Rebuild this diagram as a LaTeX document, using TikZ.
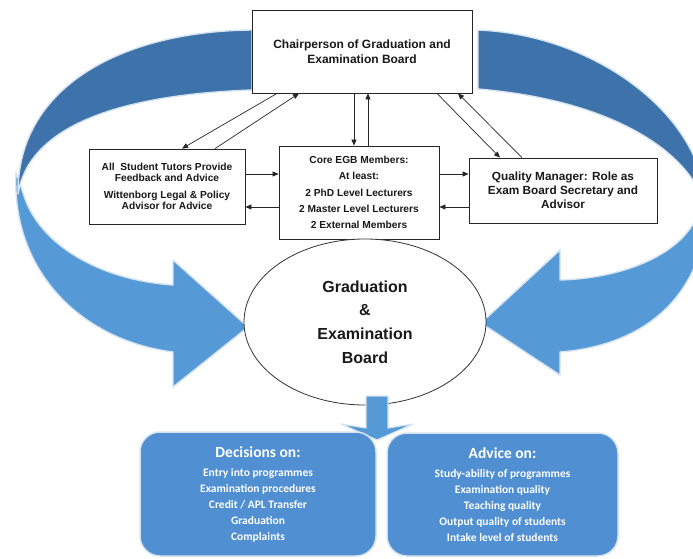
\documentclass[tikz,border=0pt]{standalone}
\usepackage{fontspec}
\setmainfont{Liberation Sans}
\newfontfamily\calfont{Carlito}
\usetikzlibrary{arrows.meta,shapes.geometric}
\definecolor{darkband}{RGB}{62,114,170}
\definecolor{lightband}{RGB}{86,153,215}
\definecolor{edgec}{RGB}{214,228,241}
\definecolor{boxfill}{RGB}{80,144,210}
\definecolor{txt}{RGB}{25,25,25}
\begin{document}
\begin{tikzpicture}[x=1pt,y=-1pt,
  box/.style={draw=black!85, line width=0.8pt, fill=white, align=center, text=txt, inner sep=0pt},
  conn/.style={line width=0.7pt, draw=black!85, -{Triangle[length=6pt,width=5pt]}},
  band/.style={draw=edgec, line width=1.4pt, line join=round},
  infobox/.style={fill=boxfill, draw=edgec, line width=1.5pt, rounded corners=20pt, align=center, text=white, inner sep=0pt, font=\calfont\bfseries\fontsize{11.5}{16}\selectfont}
]
\useasboundingbox (0,0) rectangle (693,558);
\fill[white] (0,0) rectangle (693,558);
\begin{scope}
\clip (0,0) rectangle (693,558);
% left curved arrow
\path[band, fill=lightband] (16,172) .. controls (11,270) and (80,340) .. (173,352) -- (173,387) -- (248,327) -- (173,260) -- (173,285) .. controls (100,280) and (40,245) .. (24,196) -- cycle;
\path[band, fill=darkband] (252,30) .. controls (125,31) and (17,85) .. (18,194) .. controls (28,130) and (110,95) .. (252,90) -- cycle;
% right curved arrow
\path[band, fill=lightband] (708,185) .. controls (712,290) and (650,345) .. (560,352) -- (560,375) -- (481,323) -- (560,250) -- (560,280) .. controls (630,278) and (690,250) .. (700,207) -- cycle;
\path[band, fill=darkband] (478,30) .. controls (600,35) and (705,120) .. (705,205) .. controls (688,150) and (610,100) .. (478,89) -- cycle;
\end{scope}

\node[box, minimum width=220pt, minimum height=83pt, font=\bfseries\fontsize{12}{15}\selectfont] (chair) at (362,51.5) {Chairperson of Graduation and\\Examination Board};
\node[box, minimum width=156pt, minimum height=75pt, font=\bfseries\fontsize{10.2}{11}\selectfont] (tutors) at (167,186.5) {All~ Student Tutors Provide\\Feedback and Advice\\[6pt]Wittenborg Legal \& Policy\\Advisor for Advice};
\node[box, minimum width=160pt, minimum height=93pt, font=\bfseries\fontsize{10.2}{16.3}\selectfont] (core) at (359,192.5) {Core EGB Members:\\At least:\\2 PhD Level Lecturers\\2 Master Level Lecturers\\2 External Members};
\node[box, minimum width=188pt, minimum height=65pt, font=\bfseries\fontsize{11.8}{14}\selectfont] (qm) at (563,190.5) {Quality Manager: Role as\\Exam Board Secretary and\\Advisor};
\node[box, ellipse, draw=black!80, minimum width=242pt, minimum height=166pt, font=\bfseries\fontsize{16}{23.7}\selectfont] (geb) at (365,322) {Graduation\\\&\\Examination\\Board};

% connectors
\draw[conn] ([xshift=-85pt]chair.south) -- ([xshift=15pt]tutors.north);
\draw[conn] ([xshift=48pt]tutors.north) -- ([xshift=-63pt]chair.south);
\draw[conn] ([xshift=-8pt]chair.south) -- ([xshift=-8pt]chair.south |- core.north);
\draw[conn] ([xshift=9pt]core.north) -- ([xshift=9pt]core.north |- chair.south);
\draw[conn] ([xshift=75pt]chair.south) -- ([xshift=-63pt]qm.north);
\draw[conn] ([xshift=-41pt]qm.north) -- ([xshift=96pt]chair.south);
\draw[conn] ([yshift=12.5pt]tutors.east) -- ([yshift=12.5pt]tutors.east -| core.west);
\draw[conn] ([yshift=-20.5pt]tutors.east -| core.west) -- ([yshift=-20.5pt]tutors.east);
\draw[conn] ([yshift=18.5pt]core.east) -- ([yshift=18.5pt]core.east -| qm.west);
\draw[conn] ([yshift=-14.5pt]core.east -| qm.west) -- ([yshift=-14.5pt]core.east);

% down arrow
\path[band, line width=1.2pt, fill=lightband] (366,396) -- (388,396) -- (388,428) -- (413,424) -- (377,440) -- (341,424) -- (366,428) -- cycle;

% bottom boxes
\node[infobox, minimum width=236pt, minimum height=124pt] (dec) at (258,494) {{\fontsize{15.5}{16}\selectfont Decisions on:}\\[3pt]Entry into programmes\\Examination procedures\\Credit / APL Transfer\\Graduation\\Complaints};
\node[infobox, minimum width=231pt, minimum height=123pt] (adv) at (502.5,494.5) {{\fontsize{15.5}{16}\selectfont Advice on:}\\[3pt]Study-ability of programmes\\Examination quality\\Teaching quality\\Output quality of students\\Intake level of students};
\end{tikzpicture}
\end{document}
